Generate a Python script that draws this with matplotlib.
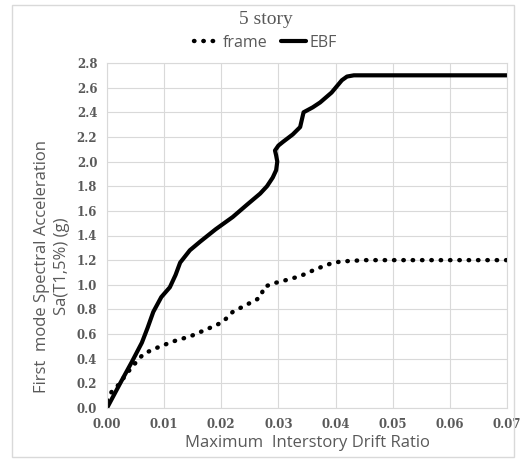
import numpy as np
import matplotlib
matplotlib.use('Agg')
import matplotlib.pyplot as plt
from matplotlib.patches import Rectangle

# Drift ratio / Sa(T1,5%) pairs
frame_x = [0.0, 0.0008, 0.0017, 0.0030, 0.0043, 0.0064, 0.0093, 0.0122, 0.0145,
           0.0165, 0.0190, 0.0203, 0.0220, 0.0245, 0.0262, 0.0270, 0.0274, 0.0290,
           0.0315, 0.0338, 0.0367, 0.0396, 0.0413, 0.0450, 0.0550, 0.0700]
frame_y = [0.06, 0.13, 0.17, 0.25, 0.33, 0.44, 0.50, 0.55, 0.58,
           0.62, 0.67, 0.70, 0.78, 0.84, 0.88, 0.91, 0.98, 1.01,
           1.04, 1.07, 1.13, 1.18, 1.19, 1.20, 1.20, 1.20]

ebf_x = [0.0, 0.0023, 0.0043, 0.0061, 0.0071, 0.0081, 0.0095, 0.0110, 0.0120,
         0.0128, 0.0145, 0.0163, 0.0190, 0.0220, 0.0245, 0.0268, 0.0280, 0.0290,
         0.0296, 0.0298, 0.0296, 0.0294, 0.0300, 0.0308, 0.0325, 0.0338, 0.0341,
         0.0344, 0.0360, 0.0373, 0.0393, 0.0411, 0.0420, 0.0432, 0.0450, 0.0550,
         0.0700]
ebf_y = [0.0, 0.20, 0.37, 0.53, 0.65, 0.78, 0.90, 0.98, 1.08,
         1.18, 1.28, 1.35, 1.45, 1.55, 1.65, 1.74, 1.80, 1.87,
         1.93, 2.00, 2.05, 2.09, 2.13, 2.16, 2.22, 2.28, 2.34,
         2.40, 2.44, 2.48, 2.56, 2.66, 2.69, 2.70, 2.70, 2.70,
         2.70]

x_ticks = [0.00, 0.01, 0.02, 0.03, 0.04, 0.05, 0.06, 0.07]
y_ticks = [0.0, 0.2, 0.4, 0.6, 0.8, 1.0, 1.2, 1.4, 1.6, 1.8, 2.0, 2.2, 2.4, 2.6, 2.8]

gray = '#595959'
grid_c = '#d9d9d9'

fig = plt.figure(figsize=(5.31, 4.59), dpi=100)
ax = fig.add_axes([107/531, 1 - 408/459, 400/531, 345/459])

# chart area border
fig.patches.append(Rectangle((12/531, 2/459), 502/531, 452/459, transform=fig.transFigure,
                             fill=False, edgecolor='#d9d9d9', linewidth=1))

ax.plot(frame_x, frame_y, color='black', linewidth=3.2, linestyle=(0, (0.1, 2.0)),
        dash_capstyle='round', label='frame')
ax.plot(ebf_x, ebf_y, color='black', linewidth=3.0, solid_capstyle='round',
        solid_joinstyle='round', label='EBF')

ax.set_xlim(0, 0.07)
ax.set_ylim(0, 2.8)
ax.set_xticks(x_ticks)
ax.set_yticks(y_ticks)
ax.set_xticklabels(['%.2f' % v for v in x_ticks])
ax.set_yticklabels(['%.1f' % v for v in y_ticks])
ax.grid(True, color=grid_c, linewidth=0.8)
ax.set_axisbelow(True)
for s in ax.spines.values():
    s.set_color(grid_c)
    s.set_linewidth(0.8)
ax.tick_params(length=0, colors=gray, labelsize=8.5, pad=7)
for lbl in ax.get_xticklabels() + ax.get_yticklabels():
    lbl.set_family('DejaVu Serif')
    lbl.set_fontweight('bold')

ax.set_xlabel('Maximum  Interstory Drift Ratio', color=gray, fontsize=12,
              family='Open Sans', labelpad=3)
ax.set_ylabel('First  mode Spectral Acceleration\nSa(T1,5%) (g)', color=gray,
              fontsize=12, family='Open Sans', linespacing=1.35)
ax.yaxis.set_label_coords(-0.092, 0.41)

fig.text(0.5, 1 - 19/459, '5 story', ha='center', va='center', fontsize=14,
         color=gray, family='Liberation Serif')
fig.legend(loc='center', bbox_to_anchor=(0.5, 1 - 43/459), ncol=2, frameon=False,
           handlelength=1.6, handletextpad=0.2, columnspacing=0.8,
           labelcolor=gray, prop={'family': 'Open Sans', 'size': 11.5})

fig.savefig('out.png', dpi=100)
